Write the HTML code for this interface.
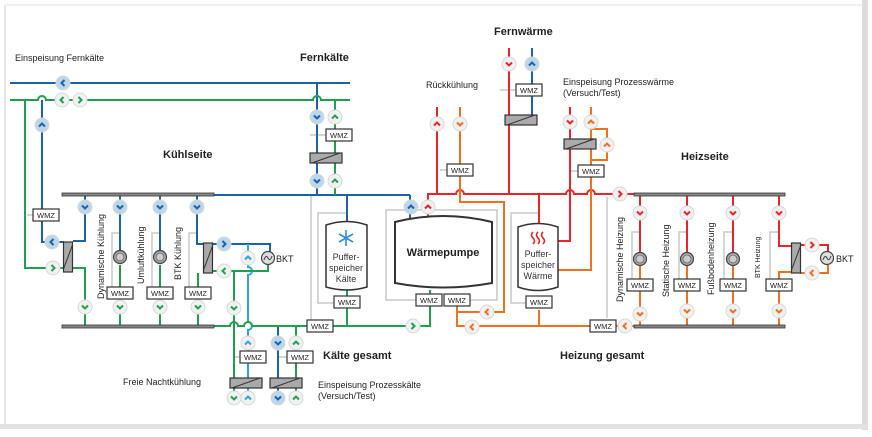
<!DOCTYPE html>
<html><head><meta charset="utf-8"><style>
html,body{margin:0;padding:0;background:#fff;}
svg{display:block;font-family:"Liberation Sans",sans-serif;}
.t{font-size:9px;fill:#222}
.b{font-size:11px;font-weight:bold;fill:#222}
.w{font-size:7.5px;fill:#222;text-anchor:middle}
</style></head><body>
<svg width="872" height="437" viewBox="0 0 872 437" xmlns="http://www.w3.org/2000/svg">
<defs>
<g id="ar"><circle r="7" stroke="#d8d8d8" stroke-width="1"/><polyline points="-1.5,-3 1.5,0 -1.5,3" fill="none" stroke-width="2"/></g>
<g id="pump"><circle r="6.5" fill="#aaa" stroke="#444" stroke-width="1.2"/><circle r="4" fill="#ccc" stroke="#666" stroke-width="0.8"/></g>
<g id="bkt"><circle r="6.5" fill="#ddd" stroke="#444" stroke-width="1.2"/><path d="M-4,2 Q-2,-4 0,0 T4,-2" fill="none" stroke="#444" stroke-width="1"/></g>
<g id="hxv"><rect x="-4.5" y="-15" width="9" height="30" fill="#aaa" stroke="#333" stroke-width="1.2"/><line x1="-4.5" y1="12" x2="4.5" y2="-12" stroke="#333"/></g>
<g id="hxh"><rect x="-16" y="-5" width="32" height="10" fill="#aaa" stroke="#333" stroke-width="1.2"/><line x1="-14" y1="5" x2="14" y2="-5" stroke="#333"/></g>
</defs>
<rect width="872" height="437" fill="#fff"/>
<rect x="862" y="0" width="6" height="430" fill="#ddd"/>
<rect x="0" y="424" width="868" height="5" fill="#e2e2e2"/>
<line x1="5" y1="5" x2="5" y2="424" stroke="#e6e6e6" stroke-width="2"/>
<line x1="5" y1="5" x2="862" y2="5" stroke="#f0f0f0" stroke-width="2"/>

<!-- gray lines -->
<g stroke="#c8c8c8" stroke-width="1.5" fill="none">
<line x1="27" y1="215" x2="33" y2="215"/>
<polyline points="112,291 112,233 120,233"/>
<polyline points="152,291 152,233 160,233"/>
<polyline points="189,291 189,233 197,233"/>
<line x1="311" y1="196" x2="311" y2="326"/>
<polyline points="347,213 318,213 318,303 334,303"/>
<polyline points="416,300 386,300 386,210 497,210 497,300 470,300"/>
<polyline points="539,213 511,213 511,303 526,303"/>
<line x1="607" y1="197" x2="607" y2="318"/>
<polyline points="632,285 632,232 640,232"/>
<polyline points="679,285 679,232 687,232"/>
<polyline points="724,285 724,232 732,232"/>
<polyline points="770,285 770,232 779,232"/>
<line x1="327" y1="135" x2="325" y2="135"/><line x1="310" y1="135" x2="326" y2="135"/>
<line x1="500" y1="90" x2="516" y2="90"/>
<line x1="440" y1="170" x2="447" y2="170"/>
<line x1="570" y1="171" x2="578" y2="171"/>
<line x1="234" y1="357" x2="240" y2="357"/>
<line x1="278" y1="357" x2="287" y2="357"/>
</g>

<!-- blue -->
<g stroke="#1b63a8" stroke-width="2" fill="none">
<line x1="10" y1="83" x2="350" y2="83"/>
<path d="M42,100 L42,242 L64,242"/>
<polyline points="73,241 85,241 85,195"/>
<line x1="213" y1="195" x2="410" y2="195"/><line x1="410" y1="195" x2="410" y2="218"/>
<line x1="120" y1="195" x2="120" y2="250"/>
<line x1="160" y1="195" x2="160" y2="250"/>
<polyline points="197,195 197,244 203,244"/>
<polyline points="213,244 270,244 270,252"/>
<line x1="317" y1="83" x2="317" y2="195"/>
<line x1="347" y1="195" x2="347" y2="222"/>
<line x1="278" y1="326" x2="278" y2="405"/>
<line x1="532" y1="48" x2="532" y2="115"/>
</g>
<!-- light blue -->
<g stroke="#2aa5e0" stroke-width="2" fill="none">
<path d="M248,244 L248,267 a4,4 0 0 1 0,8 L248,322 a4,4 0 0 1 0,8 L248,405"/>
</g>
<!-- green -->
<g stroke="#1fa050" stroke-width="2" fill="none">
<path d="M10,100 L38,100 a4,4 0 0 1 8,0 L313,100 a4,4 0 0 1 8,0 L350,100"/>
<polyline points="25,100 25,268 64,268"/>
<polyline points="73,268 85,268 85,326"/>
<line x1="120" y1="265" x2="120" y2="326"/>
<line x1="160" y1="265" x2="160" y2="326"/>
<line x1="198" y1="273" x2="198" y2="326"/>
<polyline points="213,271 268,271 268,265"/>
<line x1="335" y1="100" x2="335" y2="195"/>
<path d="M213,326 L230,326 a4,4 0 0 1 8,0 L244,326 a4,4 0 0 1 8,0 L430,326 L430,290"/>
<line x1="234" y1="271" x2="234" y2="405"/>
<line x1="347" y1="290" x2="347" y2="326"/>
<line x1="296" y1="326" x2="296" y2="405"/>
</g>
<!-- red -->
<g stroke="#e8262a" stroke-width="2" fill="none">
<path d="M428,218 L428,194 L456,194 a4,4 0 0 1 8,0 L566,194 a4,4 0 0 1 8,0 L587,194 a4,4 0 0 1 8,0 L634,194"/>
<line x1="437" y1="107" x2="437" y2="194"/>
<line x1="509" y1="48" x2="509" y2="194"/>
<line x1="539" y1="194" x2="539" y2="224"/>
<polyline points="570,107 570,241 558,241"/>
<line x1="640" y1="194" x2="640" y2="252"/>
<line x1="687" y1="194" x2="687" y2="252"/>
<line x1="733" y1="194" x2="733" y2="252"/>
<polyline points="779,194 779,246 792,246"/>
<polyline points="800,245 828,245 828,252"/>
</g>
<!-- orange -->
<g stroke="#f07020" stroke-width="2" fill="none">
<polyline points="460,107 460,202 504,202 504,312 457,312"/>
<polyline points="457,295 457,326 634,326"/>
<line x1="539" y1="310" x2="539" y2="326"/>
<polyline points="591,107 591,270 558,270"/>
<polyline points="591,129 607,129 607,160 591,160"/>
<line x1="640" y1="266" x2="640" y2="326"/>
<line x1="687" y1="266" x2="687" y2="326"/>
<line x1="733" y1="266" x2="733" y2="326"/>
<line x1="779" y1="285" x2="779" y2="326"/>
<polyline points="779,285 779,272 792,272"/>
<polyline points="800,273 828,273 828,265"/>
</g>

<!-- buses -->
<g fill="#888" stroke="#333" stroke-width="0.8">
<rect x="62" y="193" width="152" height="3"/>
<rect x="62" y="325" width="152" height="3"/>
<rect x="634" y="193" width="151" height="3"/>
<rect x="634" y="325" width="151" height="3"/>
</g>

<!-- HX -->
<use href="#hxv" x="68" y="257"/>
<use href="#hxv" x="208" y="258"/>
<use href="#hxv" x="796" y="258"/>
<use href="#hxh" x="326" y="158"/>
<use href="#hxh" x="521" y="120"/>
<use href="#hxh" x="580" y="144"/>
<use href="#hxh" x="246" y="383"/>
<use href="#hxh" x="286" y="383"/>

<!-- pumps -->
<use href="#pump" x="120" y="257"/><use href="#pump" x="160" y="257"/>
<use href="#pump" x="640" y="259"/><use href="#pump" x="687" y="259"/><use href="#pump" x="733" y="259"/>
<use href="#bkt" x="268" y="258"/><use href="#bkt" x="827" y="258"/>

<!-- tanks -->
<path d="M326,225 Q347,218 367,225 L367,287 Q347,293 326,287 Z" fill="#fff" stroke="#333" stroke-width="1.5"/>
<path d="M395,222 Q443,210 492,222 L492,283 Q443,292 395,283 Z" fill="#fff" stroke="#333" stroke-width="2"/>
<path d="M518,227 Q538,220 558,227 L558,287 Q538,294 518,287 Z" fill="#fff" stroke="#333" stroke-width="1.5"/>
<g stroke="#2b8fd6" stroke-width="1.6"><line x1="346" y1="230" x2="346" y2="246"/><line x1="339" y1="234" x2="353" y2="242"/><line x1="339" y1="242" x2="353" y2="234"/></g>
<g stroke="#e8262a" stroke-width="1.6" fill="none"><path d="M533,232 q-3,3 0,6 q3,3 0,6"/><path d="M538,232 q-3,3 0,6 q3,3 0,6"/><path d="M543,232 q-3,3 0,6 q3,3 0,6"/></g>
<text x="346" y="260" font-size="9" fill="#333" text-anchor="middle">Puffer-</text>
<text x="346" y="271" font-size="9" fill="#333" text-anchor="middle">speicher</text>
<text x="346" y="282" font-size="9" fill="#333" text-anchor="middle">Kälte</text>
<text x="538" y="257" font-size="9" fill="#333" text-anchor="middle">Puffer-</text>
<text x="538" y="268" font-size="9" fill="#333" text-anchor="middle">speicher</text>
<text x="538" y="279" font-size="9" fill="#333" text-anchor="middle">Wärme</text>
<text x="443" y="256" font-size="11" font-weight="bold" fill="#222" text-anchor="middle">Wärmepumpe</text>

<!-- arrow circles -->
<g fill="#bcd6ea" stroke="#1b63a8">
<use href="#ar" transform="translate(63,83) rotate(180)"/>
<use href="#ar" transform="translate(42,125) rotate(-90)"/>
<use href="#ar" transform="translate(52,242) rotate(180)"/>
<use href="#ar" transform="translate(85,207) rotate(90)"/>
<use href="#ar" transform="translate(120,207) rotate(90)"/>
<use href="#ar" transform="translate(160,207) rotate(90)"/>
<use href="#ar" transform="translate(197,207) rotate(90)"/>
<use href="#ar" transform="translate(224,244)"/>
<use href="#ar" transform="translate(317,117) rotate(90)"/>
<use href="#ar" transform="translate(317,181) rotate(90)"/>
<use href="#ar" transform="translate(411,207) rotate(-90)"/>
<use href="#ar" transform="translate(278,343) rotate(90)"/>
<use href="#ar" transform="translate(278,398) rotate(90)"/>
<use href="#ar" transform="translate(532,64) rotate(-90)"/>
</g>
<g fill="#f1f1f1" stroke="#2aa5e0">
<use href="#ar" transform="translate(248,258) rotate(-90)"/>
<use href="#ar" transform="translate(248,343) rotate(-90)"/>
<use href="#ar" transform="translate(248,398) rotate(-90)"/>
</g>
<g fill="#f1f1f1" stroke="#1fa050">
<use href="#ar" transform="translate(62,100) rotate(180)"/>
<use href="#ar" transform="translate(80,100)"/>
<use href="#ar" transform="translate(53,268)"/>
<use href="#ar" transform="translate(85,307) rotate(90)"/>
<use href="#ar" transform="translate(120,307) rotate(90)"/>
<use href="#ar" transform="translate(160,307) rotate(90)"/>
<use href="#ar" transform="translate(198,307) rotate(90)"/>
<use href="#ar" transform="translate(224,271) rotate(180)"/>
<use href="#ar" transform="translate(234,308) rotate(90)"/>
<use href="#ar" transform="translate(335,117) rotate(-90)"/>
<use href="#ar" transform="translate(335,181) rotate(-90)"/>
<use href="#ar" transform="translate(413,326)"/>
<use href="#ar" transform="translate(296,343) rotate(-90)"/>
<use href="#ar" transform="translate(296,398) rotate(-90)"/>
<use href="#ar" transform="translate(234,398) rotate(90)"/>
</g>
<g fill="#f1f1f1" stroke="#e8262a">
<use href="#ar" transform="translate(428,207) rotate(-90)"/>
<use href="#ar" transform="translate(437,124) rotate(-90)"/>
<use href="#ar" transform="translate(509,64) rotate(90)"/>
<use href="#ar" transform="translate(570,122) rotate(90)"/>
<use href="#ar" transform="translate(620,194)"/>
<use href="#ar" transform="translate(640,213) rotate(90)"/>
<use href="#ar" transform="translate(687,213) rotate(90)"/>
<use href="#ar" transform="translate(733,213) rotate(90)"/>
<use href="#ar" transform="translate(779,213) rotate(90)"/>
<use href="#ar" transform="translate(812,245)"/>
</g>
<g fill="#f1f1f1" stroke="#f07020">
<use href="#ar" transform="translate(460,124) rotate(90)"/>
<use href="#ar" transform="translate(591,122) rotate(-90)"/>
<use href="#ar" transform="translate(607,145) rotate(-90)"/>
<use href="#ar" transform="translate(487,312) rotate(180)"/>
<use href="#ar" transform="translate(472,327) rotate(180)"/>
<use href="#ar" transform="translate(625,326) rotate(180)"/>
<use href="#ar" transform="translate(640,314) rotate(90)"/>
<use href="#ar" transform="translate(687,311) rotate(90)"/>
<use href="#ar" transform="translate(733,311) rotate(90)"/>
<use href="#ar" transform="translate(779,311) rotate(90)"/>
<use href="#ar" transform="translate(812,273) rotate(180)"/>
</g>

<!-- WMZ boxes -->
<g fill="#fff" stroke="#333" stroke-width="1.2">
<rect x="33" y="209" width="26" height="12"/>
<rect x="107" y="287" width="26" height="12"/>
<rect x="147" y="287" width="26" height="12"/>
<rect x="185" y="287" width="26" height="12"/>
<rect x="326" y="129" width="26" height="12"/>
<rect x="334" y="296" width="26" height="12"/>
<rect x="307" y="320" width="26" height="12"/>
<rect x="416" y="294" width="26" height="12"/>
<rect x="444" y="294" width="26" height="12"/>
<rect x="447" y="164" width="26" height="12"/>
<rect x="516" y="84" width="26" height="12"/>
<rect x="578" y="165" width="26" height="12"/>
<rect x="526" y="296" width="26" height="12"/>
<rect x="590" y="320" width="26" height="12"/>
<rect x="627" y="279" width="26" height="12"/>
<rect x="674" y="279" width="26" height="12"/>
<rect x="720" y="279" width="26" height="12"/>
<rect x="766" y="279" width="26" height="12"/>
<rect x="240" y="351" width="26" height="12"/>
<rect x="287" y="351" width="26" height="12"/>
</g>
<g class="w">
<text class="w" x="46" y="218">WMZ</text>
<text class="w" x="120" y="296">WMZ</text>
<text class="w" x="160" y="296">WMZ</text>
<text class="w" x="198" y="296">WMZ</text>
<text class="w" x="339" y="138">WMZ</text>
<text class="w" x="347" y="305">WMZ</text>
<text class="w" x="320" y="329">WMZ</text>
<text class="w" x="429" y="303">WMZ</text>
<text class="w" x="457" y="303">WMZ</text>
<text class="w" x="460" y="173">WMZ</text>
<text class="w" x="529" y="93">WMZ</text>
<text class="w" x="591" y="174">WMZ</text>
<text class="w" x="539" y="305">WMZ</text>
<text class="w" x="603" y="329">WMZ</text>
<text class="w" x="640" y="288">WMZ</text>
<text class="w" x="687" y="288">WMZ</text>
<text class="w" x="733" y="288">WMZ</text>
<text class="w" x="779" y="288">WMZ</text>
<text class="w" x="253" y="360">WMZ</text>
<text class="w" x="300" y="360">WMZ</text>
</g>

<!-- labels -->
<text class="t" x="15" y="61">Einspeisung Fernkälte</text>
<text class="b" x="300" y="61">Fernkälte</text>
<text class="b" x="163" y="158">Kühlseite</text>
<text class="b" x="494" y="35">Fernwärme</text>
<text class="t" x="426" y="88">Rückkühlung</text>
<text class="t" x="563" y="85">Einspeisung Prozesswärme</text>
<text class="t" x="563" y="96">(Versuch/Test)</text>
<text class="b" x="681" y="160">Heizseite</text>
<text class="b" x="323" y="359">Kälte gesamt</text>
<text class="b" x="560" y="359">Heizung gesamt</text>
<text class="t" x="123" y="385">Freie Nachtkühlung</text>
<text class="t" x="318" y="388">Einspeisung Prozesskälte</text>
<text class="t" x="318" y="399">(Versuch/Test)</text>
<text class="t" x="276" y="262">BKT</text>
<text class="t" x="836" y="262">BKT</text>
<text class="t" transform="translate(104,299) rotate(-90)">Dynamische Kühlung</text>
<text class="t" transform="translate(144,284) rotate(-90)">Umluftkühlung</text>
<text class="t" transform="translate(181,280) rotate(-90)">BTK Kühlung</text>
<text class="t" transform="translate(623,302) rotate(-90)">Dynamische Heizung</text>
<text class="t" transform="translate(669,297) rotate(-90)">Statische Heizung</text>
<text class="t" transform="translate(714,295) rotate(-90)">Fußbodenheizung</text>
<text transform="translate(760,278) rotate(-90)" font-size="7" fill="#222">BTK Heizung</text>
</svg>
</body></html>
